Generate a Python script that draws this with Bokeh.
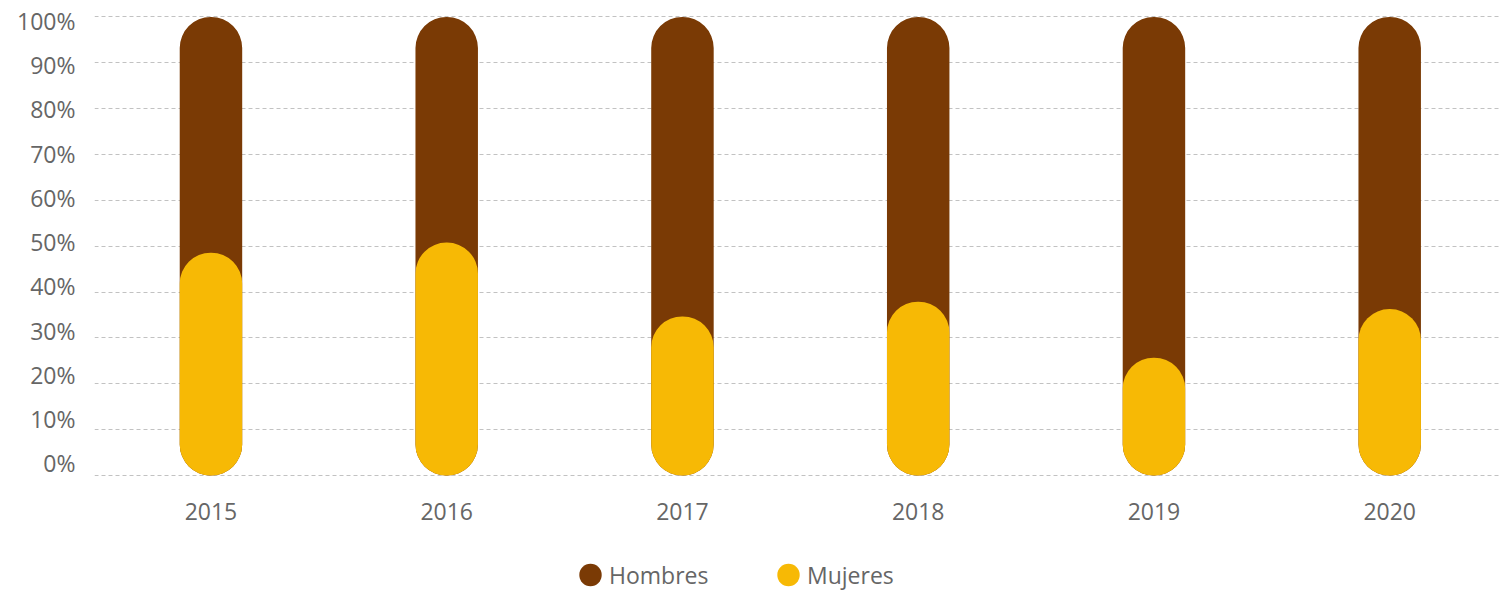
from bokeh.plotting import figure
from bokeh.layouts import column
from bokeh.models import (Range1d, LinearAxis, Grid, FixedTicker, Legend,
                          LegendItem, ColumnDataSource)
from bokeh.embed import file_html
from bokeh.resources import INLINE

# ---- data ----
years = ["2015", "2016", "2017", "2018", "2019", "2020"]
mujeres = [48.6, 50.8, 34.7, 37.9, 25.7, 36.3]
hombres = [51.4, 49.2, 65.3, 62.1, 74.3, 63.7]
series_names = ["Hombres", "Mujeres"]
y_ticks = [0, 10, 20, 30, 40, 50, 60, 70, 80, 90, 100]
y_tick_labels = [f"{t}%" for t in y_ticks]

BROWN = "#7A3A05"
YELLOW = "#F7B905"
TEXT = "#666666"
FONT = "Open Sans"
FSIZE = "23px"

xs = list(range(len(years)))
src = ColumnDataSource(dict(
    x=xs,
    year=years,
    mujeres=mujeres,
    hombres=hombres,
    total=[m + h for m, h in zip(mujeres, hombres)],
))

FRAME_LEFT = 94
p = figure(width=1500, height=540,
           x_range=Range1d(-0.494, 5.470), y_range=Range1d(-1.09, 100.98),
           output_backend="svg", toolbar_location=None,
           x_axis_location=None, y_axis_location=None,
           min_border_left=FRAME_LEFT, min_border_right=0,
           min_border_top=12, min_border_bottom=60,
           outline_line_color=None, background_fill_color="white")
p.center = []  # drop default grids

# grid lines
p.add_layout(Grid(dimension=1, ticker=FixedTicker(ticks=y_ticks),
                  grid_line_color="#c2c2c2", grid_line_dash="4 3",
                  grid_line_width=1))

# bars: Hombres stacked over Mujeres, drawn as full rounded columns
p.vbar(x="x", width=0.265, bottom=0, top="total", source=src,
       fill_color=BROWN, line_color=None, border_radius=31)
p.vbar(x="x", width=0.265, bottom=0, top="mujeres", source=src,
       fill_color=YELLOW, line_color=None, border_radius=31)

# x axis
xa = LinearAxis(ticker=FixedTicker(ticks=xs),
                major_label_overrides={i: y for i, y in zip(xs, years)})
# y axis labels (own range: in the reference the labels are slightly compressed)
p.extra_y_ranges = {"lab": Range1d(-3.91, 101.92)}
ya = LinearAxis(y_range_name="lab", ticker=FixedTicker(ticks=y_ticks),
                major_label_overrides={t: l for t, l in zip(y_ticks, y_tick_labels)})
for ax, standoff in ((xa, 22), (ya, 19)):
    ax.axis_line_color = None
    ax.major_tick_line_color = None
    ax.minor_tick_line_color = None
    ax.major_tick_out = 0
    ax.major_tick_in = 0
    ax.major_label_standoff = standoff
    ax.major_label_text_font = FONT
    ax.major_label_text_font_size = FSIZE
    ax.major_label_text_color = TEXT
p.add_layout(xa, "below")
p.add_layout(ya, "left")

# legend strip below the chart (its frame is aligned with the chart's frame)
lf = figure(width=1500, height=51, x_range=Range1d(0, 1), y_range=Range1d(0, 1),
            output_backend="svg", toolbar_location=None,
            x_axis_location=None, y_axis_location=None,
            min_border=0, outline_line_color=None)
lf.center = []
nan = float("nan")
leg_src = ColumnDataSource(dict(x=[nan], y=[nan]))  # nothing drawn, glyph only for legend
r_h = lf.ellipse(x="x", y="y", source=leg_src, width=22, height=22,
                 width_units="screen", height_units="screen",
                 fill_color=BROWN, line_color=None)
r_m = lf.ellipse(x="x", y="y", source=leg_src, width=22, height=22,
                 width_units="screen", height_units="screen",
                 fill_color=YELLOW, line_color=None)

legend = Legend(items=[LegendItem(label=series_names[0], renderers=[r_h]),
                       LegendItem(label=series_names[1], renderers=[r_m])],
                location=(576 - FRAME_LEFT, -11), orientation="horizontal",
                glyph_width=28, glyph_height=55, label_standoff=5,
                label_width=120, spacing=45,
                padding=0, margin=0,
                border_line_color=None, background_fill_alpha=0,
                label_text_font=FONT, label_text_font_size=FSIZE,
                label_text_color=TEXT)
lf.add_layout(legend)

layout = column(p, lf, spacing=0)
open("out.html", "w").write(file_html(layout, INLINE))
